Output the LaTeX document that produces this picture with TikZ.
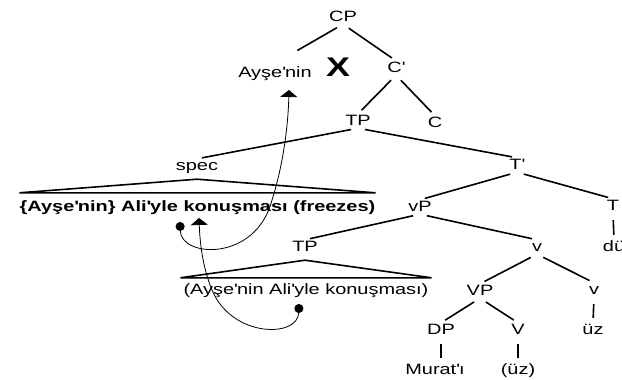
\documentclass[tikz,border=0pt]{standalone}
\usepackage{fontspec}
\setmainfont{Liberation Sans}[FakeStretch=1.33]
\usepackage{tikz}
\usetikzlibrary{arrows.meta}
\newcommand{\apos}{\textquotesingle}

\begin{document}
\begin{tikzpicture}[x=1pt,y=-1pt,font=\fontsize{15}{15}\selectfont,
	every node/.style={anchor=base,inner sep=0pt,text height=11pt,text depth=3pt},
	branch/.style={line width=1.6pt,shorten <=7pt,shorten >=5pt},
	roof/.style={line width=1.6pt},
	move/.style={line width=0.8pt,{Circle[length=9pt]}-{Triangle[width=17pt,length=7pt]}}]
			\useasboundingbox (0,0) rectangle (622,380);

			\node (cp)    at (343,21)  {CP};
			\node (ayse)  at (275,77)  {Ayşe\apos nin};
			\node (x)     at (338,76)  {\bfseries\fontsize{27}{27}\selectfont X};
			\node (cbar)  at (396,72)  {C\apos};
			\node (tp)    at (358,125) {TP};
			\node (c)     at (435,127) {C};
			\node (spec)  at (197,170) {spec};
			\node (tbar)  at (517,169) {T\apos};
			\node (frz)   at (197.5,211) {\bfseries\{Ayşe\apos nin\} Ali\apos yle konuşması (freezes)};
			\node (vp)    at (420,211) {vP};
			\node (t)     at (613,210) {T};
			\node (du)    at (614,251) {dü};
			\node (tp2)   at (305,251) {TP};
			\node (vbar)  at (537,251) {v};
			\node[inner xsep=3pt] (low) at (306,294) {(Ayşe\apos nin Ali\apos yle konuşması)};
			\node (vp2)   at (480,295) {VP};
			\node (v)     at (594,294) {v};
			\node (uz)    at (593,334) {üz};
			\node (dp)    at (441,334) {DP};
			\node (vv)    at (518,334) {V};
			\node (murat) at (435,374) {Murat\apos ı};
			\node (uz2)   at (518,374) {(üz)};
			\coordinate (aysetop) at (293,53);

			\draw[branch] (cp.south) -- (aysetop);
			\draw[branch] (cp.south) -- (cbar.north);
			\draw[branch] (cbar.south) -- (tp.north);
			\draw[branch] (cbar.south) -- (c.north);
			\draw[branch] (tp.south) -- (spec.north);
			\draw[branch] (tp.south) -- (tbar.north);
			\draw[roof] ([yshift=-6pt]spec.south) -- ([yshift=7pt]frz.north east) -- ([yshift=7pt]frz.north west) -- cycle;
			\draw[branch] (tbar.south) -- (vp.north);
			\draw[branch] (tbar.south) -- (t.north);
			\draw[branch] (t.south) -- (du.north);
			\draw[branch] (vp.south) -- (tp2.north);
			\draw[branch] (vp.south) -- (vbar.north);
			\draw[roof] ([yshift=-6pt]tp2.south) -- ([yshift=5pt]low.north east) -- ([yshift=5pt]low.north west) -- cycle;
			\draw[branch] (vbar.south) -- (vp2.north);
			\draw[branch] (vbar.south) -- (v.north);
			\draw[branch] (v.south) -- (uz.north);
			\draw[branch] (vp2.south) -- (dp.north);
			\draw[branch] (vp2.south) -- (vv.north);
			\draw[branch] (dp.south) -- (dp.south |- murat.north);
			\draw[branch] (vv.south) -- (uz2.north);

			% movement arrows
			\coordinate (dot1) at (180,222);
			\coordinate (tip1) at (289,90);
			\coordinate (dot2) at (299,304);
			\coordinate (tip2) at (199,218);
			\draw[move] (dot1) .. controls (181,258) and (256,262) .. (272,200) .. controls (282,169) and (288,130) .. (tip1);
			\draw[move] (dot2) .. controls (298,338) and (232,338) .. (212,290) .. controls (203,268) and (200,245) .. (tip2);
\end{tikzpicture}
\end{document}
